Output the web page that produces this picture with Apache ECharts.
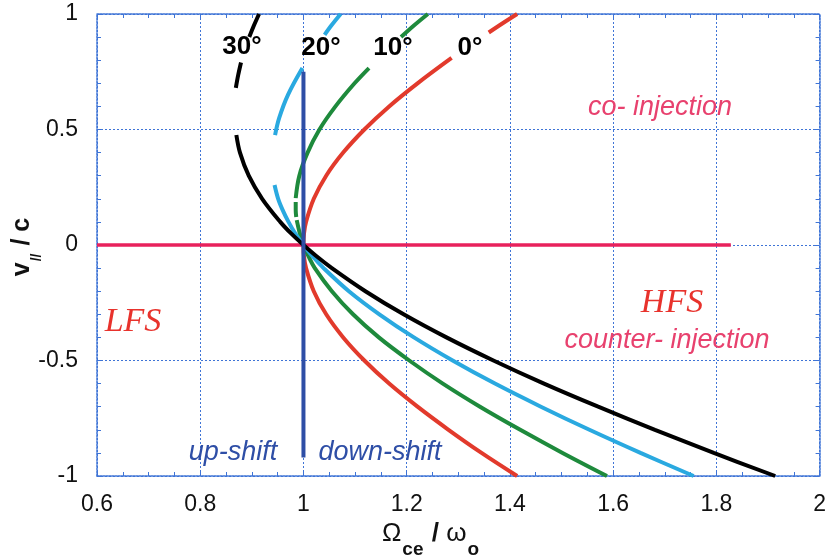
<!DOCTYPE html>
<html>
<head>
<meta charset="utf-8">
<script src="https://cdn.jsdelivr.net/npm/echarts@6/dist/echarts.min.js"></script>
<style>
  html, body { margin: 0; padding: 0; background: #fff; }
  #chart { width: 829px; height: 558px; }
</style>
</head>
<body>
<div id="chart"></div>
<script>
// v_par / c on the lower branch (counter side), shared by all angles
var vLow = [-1, -0.9, -0.8, -0.7, -0.6, -0.5, -0.4, -0.3, -0.2, -0.1, -0.05, 0]
var low0 = [1.414, 1.345, 1.281, 1.221, 1.166, 1.118, 1.077, 1.044, 1.020, 1.005, 1.001, 1]
var low10 = [1.588, 1.502, 1.420, 1.342, 1.270, 1.205, 1.146, 1.096, 1.055, 1.022, 1.010, 1]
var low20 = [1.756, 1.653, 1.554, 1.460, 1.371, 1.289, 1.214, 1.147, 1.088, 1.039, 1.018, 1]
var low30 = [1.914, 1.795, 1.681, 1.571, 1.466, 1.368, 1.277, 1.194, 1.120, 1.055, 1.026, 1]

// upper branch, drawn in pieces (gaps as in the figure)
var up0V = [[0, 0.05, 0.1, 0.2, 0.3, 0.4, 0.5, 0.6, 0.7, 0.81], [0.92, 0.96, 1]]
var up0X = [[1, 1.001, 1.005, 1.020, 1.044, 1.077, 1.118, 1.166, 1.221, 1.287], [1.359, 1.386, 1.414]]
var up10V = [[0, 0.05, 0.108], [0.121, 0.15, 0.186], [0.203, 0.3, 0.4, 0.5, 0.6, 0.7, 0.766], [0.9, 0.95, 1]]
var up10X = [[1, 0.993, 0.987], [0.986, 0.985, 0.985], [0.985, 0.992, 1.008, 1.031, 1.062, 1.099, 1.127], [1.189, 1.214, 1.241]]
var up20V = [[0, 0.05, 0.1, 0.15, 0.2, 0.26], [0.476, 0.55, 0.65, 0.766], [0.91, 0.95, 1]]
var up20X = [[1, 0.984, 0.971, 0.960, 0.951, 0.944], [0.945, 0.953, 0.970, 0.998], [1.041, 1.054, 1.072]]
var up30V = [[0, 0.05, 0.1, 0.2, 0.3, 0.4, 0.476], [0.68, 0.735, 0.79], [0.9, 0.95, 1]]
var up30X = [[1, 0.976, 0.955, 0.920, 0.894, 0.877, 0.870], [0.869, 0.8735, 0.879], [0.895, 0.904, 0.914]]

var injX = [0.6, 1.828]
var injV = [0, 0]
var shiftX = [1, 1]
var shiftV = [-0.92, 0.75]

var angleColors = ['#e23a2c', '#1e8a3c', '#2aa9e0', '#000000']

var gridBlue = '#3f74d6'

function pairs (xs, ys) {
  return xs.map(function (x, i) { return [x, ys[i]] })
}

function lineSeries (data, color, width, z, smooth) {
  return {
    type: 'line',
    data: data,
    showSymbol: false,
    symbol: 'none',
    silent: true,
    smooth: smooth || false,
    z: z || 3,
    lineStyle: { color: color, width: width || 4, cap: 'butt' }
  }
}

var series = []
series.push(lineSeries(pairs(injX, injV), '#e8215c', 3.5, 2))

var lows = [low0, low10, low20, low30]
var upsX = [up0X, up10X, up20X, up30X]
var upsV = [up0V, up10V, up20V, up30V]
lows.forEach(function (xs, k) {
  series.push(lineSeries(pairs(xs, vLow), angleColors[k], 4, 3 + k, 0.35))
  upsX[k].forEach(function (seg, j) {
    series.push(lineSeries(pairs(seg, upsV[k][j]), angleColors[k], 4, 3 + k, 0.35))
  })
})
series.push(lineSeries(pairs(shiftX, shiftV), '#2e4ea6', 4, 10))

var labelFont = 'Liberation Sans, Arial, Helvetica, sans-serif'

function textEl (text, x, y, size, color, opts) {
  opts = opts || {}
  return {
    type: 'text',
    x: x,
    y: y,
    rotation: opts.rotation || 0,
    z: 100,
    style: {
      text: text,
      fill: color,
      font: (opts.style || '') + ' ' + (opts.weight || 'normal') + ' ' + size + 'px ' + (opts.family || labelFont),
      align: 'center',
      verticalAlign: 'middle',
      rich: opts.rich
    }
  }
}

var chart = echarts.init(document.getElementById('chart'), null, { renderer: 'canvas' })

var axisCommon = {
  type: 'value',
  axisLine: { show: true, onZero: false, lineStyle: { color: gridBlue, width: 1.5, type: [2, 1] } },
  axisTick: { show: true, inside: true, length: 6, lineStyle: { color: gridBlue, width: 1 } },
  minorTick: { show: true, length: 4, lineStyle: { color: gridBlue, width: 1 } },
  splitLine: { show: false },
  axisLabel: { show: false }
}

chart.setOption({
  animation: false,
  backgroundColor: '#ffffff',
  grid: { left: 97, right: 7, top: 14, bottom: 82, containLabel: false },
  xAxis: [
    Object.assign({}, axisCommon, {
      position: 'bottom',
      min: 0.6, max: 2, interval: 0.2,
      minorTick: Object.assign({}, axisCommon.minorTick, { splitNumber: 4 }),
      splitLine: { show: true, lineStyle: { color: gridBlue, width: 1, type: [2, 2] } },
      axisLabel: { show: true, margin: 17, fontSize: 23, color: '#111', fontFamily: labelFont }
    }),
    Object.assign({}, axisCommon, {
      position: 'top',
      min: 0.6, max: 2, interval: 0.2,
      minorTick: Object.assign({}, axisCommon.minorTick, { splitNumber: 4 })
    })
  ],
  yAxis: [
    Object.assign({}, axisCommon, {
      position: 'left',
      min: -1, max: 1, interval: 0.5,
      minorTick: Object.assign({}, axisCommon.minorTick, { splitNumber: 5 }),
      splitLine: { show: true, lineStyle: { color: gridBlue, width: 1, type: [2, 2] } },
      axisLabel: { show: true, margin: 19, fontSize: 23, color: '#111', fontFamily: labelFont }
    }),
    Object.assign({}, axisCommon, {
      position: 'right',
      min: -1, max: 1, interval: 0.5,
      minorTick: Object.assign({}, axisCommon.minorTick, { splitNumber: 5 })
    })
  ],
  series: series,
  graphic: [
    textEl('30°', 242, 47, 26, '#000', { weight: 'bold' }),
    textEl('20°', 321, 48, 26, '#000', { weight: 'bold' }),
    textEl('10°', 393, 48, 26, '#000', { weight: 'bold' }),
    textEl('0°', 470, 48, 26, '#000', { weight: 'bold' }),
    textEl('co- injection', 660, 107, 27, '#e8416e', { style: 'italic' }),
    textEl('HFS', 672, 303, 34, '#e8322c', { style: 'italic', family: 'Liberation Serif, Times New Roman, serif' }),
    textEl('counter- injection', 667, 340, 27, '#e8416e', { style: 'italic' }),
    textEl('LFS', 133, 322, 34, '#e8322c', { style: 'italic', family: 'Liberation Serif, Times New Roman, serif' }),
    textEl('up-shift', 233, 452, 27, '#2e4ea6', { style: 'italic' }),
    textEl('down-shift', 380, 452, 27, '#2e4ea6', { style: 'italic' }),
    textEl('{a|Ω}{s|ce}{b| / }{a|ω}{s|o}', 431, 540, 25, '#111', {
      rich: {
        a: { fontSize: 26, fontFamily: labelFont, fill: '#111', verticalAlign: 'top', lineHeight: 26 },
        b: { fontSize: 26, fontFamily: labelFont, fontWeight: 'bold', fill: '#111', verticalAlign: 'top', lineHeight: 26 },
        s: { fontSize: 19, fontFamily: labelFont, fontWeight: 'bold', fill: '#111', verticalAlign: 'bottom', lineHeight: 39, padding: [0, 1, 0, 1] }
      }
    }),
    textEl('{a|v}{s|//}{a| / c}', 27, 247, 24, '#111', {
      rotation: Math.PI / 2,
      rich: {
        a: { fontSize: 25, fontFamily: labelFont, fontWeight: 'bold', fill: '#111', verticalAlign: 'top', lineHeight: 25 },
        s: { fontSize: 14, fontFamily: labelFont, fontWeight: 'bold', fill: '#111', verticalAlign: 'bottom', lineHeight: 34, padding: [0, 1, 0, 1] }
      }
    })
  ]
})
</script>
</body>
</html>
